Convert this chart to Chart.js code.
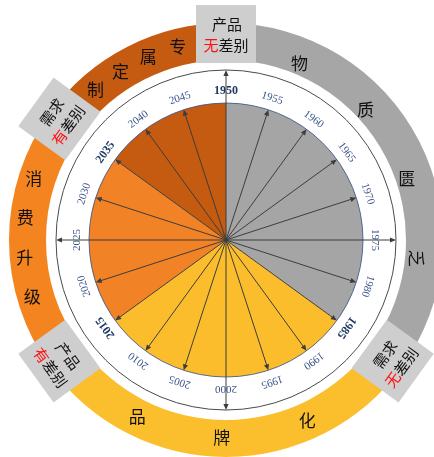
<!DOCTYPE html>
<html>
<head>
<meta charset="utf-8">
<script src="https://cdn.jsdelivr.net/npm/chart.js@4.4.1/dist/chart.umd.min.js"></script>
<style>
  html, body { margin: 0; padding: 0; background: #fff; overflow: hidden; width: 434px; height: 457px; }
  #wrap { position: absolute; left: -14px; top: 0; width: 480px; height: 480px; }
</style>
</head>
<body>
<div id="wrap"><canvas id="wheel" width="480" height="480"></canvas></div>
<script>
// Four consumption stages, each spanning a number of years on the wheel
const stageNames  = ['物质匮乏', '品牌化', '消费升级', '专属定制'];
const stageSpans  = [35, 30, 20, 15];               // 1950-1985, 1985-2015, 2015-2035, 2035-2050
const stageColors = ['#A5A5A5', '#FBBD2C', '#F28226', '#C55A11'];
const ringColors  = ['#A6A6A6', '#FBBF2D', '#F4841F', '#C55A11'];

// Year ticks around the wheel
const startYear = 1950;
const years = [1950, 1955, 1960, 1965, 1970, 1975, 1980, 1985, 1990, 1995,
               2000, 2005, 2010, 2015, 2020, 2025, 2030, 2035, 2040, 2045];
const boundaryYears = [1950, 1985, 2015, 2035];      // stage boundaries, labelled in bold
const axisYears = [1950, 1975, 2000, 2025];          // arrows that reach the outer circle

// Tags placed on the stage boundaries: [first line, second line]; the first char of line two is highlighted
const boundaryTags = [
  ['产品', '无差别'],
  ['需求', '无差别'],
  ['产品', '有差别'],
  ['需求', '有差别']
];

// Stage names written along the outer ring: angle of first char (deg, clockwise from top), step, radius
const ringText = [
  { text: '物质匮乏', start: 22.6, step: 24.3, r: 191, turnLast: true },
  { text: '品牌化',   start: 206.6, step: -25.4, r: 198 },
  { text: '消费升级', start: 287.8, step: -11.4, r: 202 },
  { text: '专属定制', start: 346,   step: -9,    r: 199 }
];

const CJK = '"Noto Sans CJK SC", "Noto Sans", sans-serif';
const SERIF = '"Liberation Serif", "DejaVu Serif", serif';

function arrow(ctx, x0, y0, x1, y1) {
  const a = Math.atan2(y1 - y0, x1 - x0);
  const L = 6, W = 2.6;
  ctx.beginPath();
  ctx.moveTo(x0, y0);
  ctx.lineTo(x1 - L * Math.cos(a) * 0.6, y1 - L * Math.sin(a) * 0.6);
  ctx.stroke();
  ctx.beginPath();
  ctx.moveTo(x1, y1);
  ctx.lineTo(x1 - L * Math.cos(a) + W * Math.sin(a), y1 - L * Math.sin(a) - W * Math.cos(a));
  ctx.lineTo(x1 - L * Math.cos(a) - W * Math.sin(a), y1 - L * Math.sin(a) + W * Math.cos(a));
  ctx.closePath();
  ctx.fill();
}

const wheelDecor = {
  id: 'wheelDecor',
  afterDatasetsDraw(chart) {
    const ctx = chart.ctx;
    const pieMeta = chart.getDatasetMeta(2);
    const first = pieMeta.data[0];
    const cx = first.x, cy = first.y, R = first.outerRadius;
    const total = pieMeta.total;
    const angleOf = y => (y - startYear) / total * Math.PI * 2; // clockwise from top
    const pt = (th, r) => [cx + r * Math.sin(th), cy - r * Math.cos(th)];
    const outerCircle = R + 33;

    ctx.save();
    // pie rim
    ctx.strokeStyle = 'rgba(62,86,140,0.85)';
    ctx.lineWidth = 1;
    ctx.beginPath(); ctx.arc(cx, cy, R, 0, Math.PI * 2); ctx.stroke();

    // thin outer circle
    ctx.strokeStyle = '#4a4a4a';
    ctx.beginPath(); ctx.arc(cx, cy, outerCircle, 0, Math.PI * 2); ctx.stroke();

    // year labels
    years.forEach(y => {
      const th = angleOf(y);
      const [x, yy] = pt(th, R + 12);
      const bold = boundaryYears.includes(y);
      ctx.save();
      ctx.translate(x, yy);
      ctx.rotate(th);
      ctx.font = (bold ? 'bold 12px ' : '11px ') + SERIF;
      ctx.fillStyle = bold ? '#1F3864' : '#3B5488';
      ctx.textAlign = 'center';
      ctx.textBaseline = 'middle';
      ctx.fillText(String(y), 0, 0);
      ctx.restore();
    });

    // arrows from the centre
    ctx.strokeStyle = '#3d3d3d';
    ctx.fillStyle = '#3d3d3d';
    ctx.lineWidth = 1;
    years.forEach(y => {
      const th = angleOf(y);
      const r = axisYears.includes(y) ? outerCircle : R;
      const [x1, y1] = pt(th, r);
      arrow(ctx, cx, cy, x1, y1);
    });

    // stage names on the outer ring
    ctx.fillStyle = '#111';
    ctx.font = '17px ' + CJK;
    ctx.textAlign = 'center';
    ctx.textBaseline = 'middle';
    ringText.forEach(g => {
      [...g.text].forEach((ch, i) => {
        const th = (g.start + g.step * i) * Math.PI / 180;
        const [x, y] = pt(th, g.r);
        ctx.save();
        ctx.translate(x, y);
        if (g.turnLast && i === g.text.length - 1) ctx.rotate(Math.PI / 2);
        ctx.fillText(ch, 0, 0);
        ctx.restore();
      });
    });

    // boundary tags
    boundaryYears.forEach((y, k) => {
      let th = angleOf(y);
      const [x, yy] = pt(th, R + 69);
      let rot = th;
      if (rot > Math.PI / 2 && rot < Math.PI * 1.5) rot -= Math.PI;
      ctx.save();
      ctx.translate(x, yy);
      ctx.rotate(rot);
      ctx.fillStyle = '#CFCECE';
      ctx.fillRect(-30, -29, 60, 58);
      ctx.font = '15px ' + CJK;
      ctx.textBaseline = 'middle';
      ctx.textAlign = 'left';
      const [l1, l2] = boundaryTags[k];
      ctx.fillStyle = '#111';
      const w1 = ctx.measureText(l1).width;
      ctx.fillText(l1, -w1 / 2 + 1, -10);
      const w2 = ctx.measureText(l2).width;
      let xx = -w2 / 2;
      [...l2].forEach((ch, i) => {
        ctx.fillStyle = i === 0 ? '#FF1010' : '#111';
        ctx.fillText(ch, xx, 11);
        xx += ctx.measureText(ch).width;
      });
      ctx.restore();
    });
    ctx.restore();
  }
};

new Chart(document.getElementById('wheel'), {
  type: 'doughnut',
  data: {
    labels: stageNames,
    datasets: [
      { data: stageSpans, backgroundColor: ringColors, borderWidth: 0, weight: 37 },
      { data: [1], backgroundColor: 'rgba(0,0,0,0)', borderWidth: 0, weight: 43 },
      { data: stageSpans, backgroundColor: stageColors, borderWidth: 0, weight: 137 }
    ]
  },
  options: {
    responsive: false,
    animation: false,
    events: [],
    cutout: 0,
    rotation: 0,
    hoverOffset: 0,
    offset: 0,
    layout: { padding: 23 },
    plugins: { legend: { display: false }, tooltip: { enabled: false } }
  },
  plugins: [wheelDecor]
});
</script>
</body>
</html>
